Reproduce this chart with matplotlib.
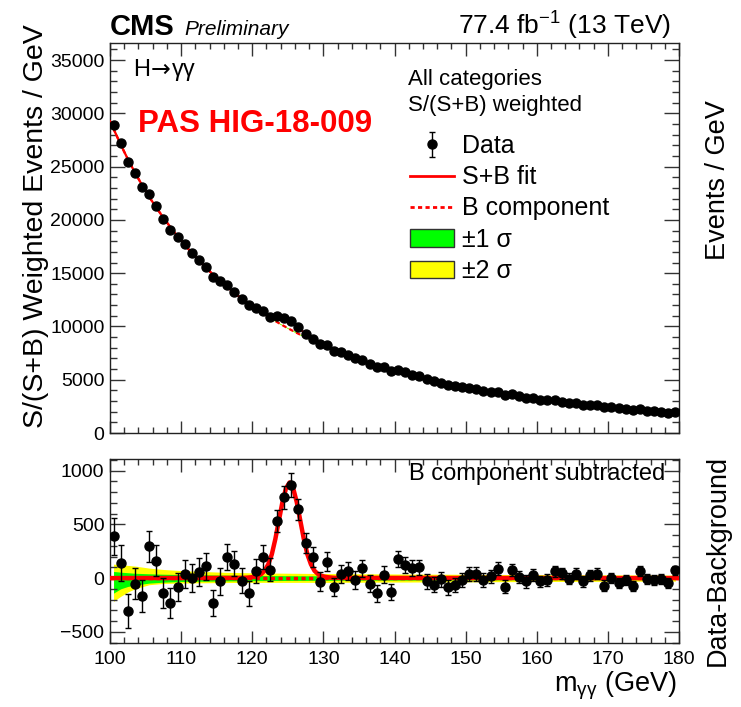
import numpy as np
import matplotlib
matplotlib.use("Agg")
import matplotlib.pyplot as plt
from matplotlib.lines import Line2D
from matplotlib.patches import Patch
from matplotlib.ticker import MultipleLocator

plt.rcParams["font.family"] = ["Liberation Sans", "DejaVu Sans"]
plt.rcParams["mathtext.fontset"] = "custom"
plt.rcParams["mathtext.rm"] = "Liberation Sans"
plt.rcParams["mathtext.it"] = "Liberation Sans:italic"

# ---------------- data ----------------
mass = np.arange(100.5, 180.0, 1.0)          # bin centres (GeV)

# background (B component) fit evaluated at bin centres
bkg_fit = [28540, 27070, 25710, 24450, 23270, 22170, 21160, 20210, 19310, 18460,
           17660, 16900, 16180, 15500, 14860, 14255, 13680, 13135, 12620, 12130,
           11665, 11225, 10805, 10405, 10023, 9658, 9310, 8978, 8661, 8358,
           8068, 7791, 7526, 7272, 7029, 6796, 6573, 6359, 6154, 5957,
           5762, 5575, 5396, 5224, 5059, 4901, 4750, 4605, 4466, 4333,
           4206, 4084, 3967, 3854, 3745, 3640, 3538, 3439, 3343, 3250,
           3160, 3073, 2989, 2908, 2830, 2755, 2682, 2611, 2542, 2475,
           2410, 2347, 2286, 2227, 2170, 2114, 2060, 2007, 1956, 1906]
bkg_edge_mass = [100.0, 180.0]
bkg_edge_vals = [29260, 1882]

# data - background
residual = [387, 139, -303, -53, -167, 294, 161, -136, -232, -84,
            37, 0, 56, 108, -232, -31, 195, 133, -25, -142,
            62, 195, 77, 533, 752, 867, 641, 328, 195, -34,
            152, -84, 37, 68, -15, 90, -53, -142, 31, -130,
            180, 118, 93, 99, -31, -62, -12, -87, -62, -22,
            40, 40, -19, 15, 87, -80, 77, 9, -31, 31,
            -31, -19, 62, 43, -6, 40, -31, 25, 40, -71,
            0, -43, -19, -71, 62, -9, -15, -6, -46, 71]
residual_err = [170, 168, 158, 145, 150, 148, 143, 140, 136, 128,
                132, 130, 127, 125, 121, 122, 120, 116, 118, 114,
                112, 111, 108, 104, 106, 108, 98, 94, 92, 90,
                88, 87, 86, 84, 83, 82, 80, 79, 77, 76,
                75, 74, 72, 71, 70, 69, 68, 67, 66, 65,
                64, 63, 62, 61, 60, 59, 58, 58, 57, 56,
                55, 55, 54, 53, 53, 52, 51, 51, 50, 50,
                49, 48, 48, 47, 47, 46, 46, 45, 45, 44]

# signal component of the S+B fit
sig_mass = np.arange(118.75, 131.76, 0.5)
sig_vals = [2, 4, 7, 12, 20, 37, 68, 128, 221, 364, 537, 709, 837, 890,
            837, 709, 537, 364, 221, 128, 68, 37, 20, 12, 7, 4, 2]

# uncertainty bands on the background (relative to B)
band_mass = [100.5, 101.5, 102.5, 103.5, 105.5, 107.5, 110.5, 115.5,
             120.5, 125.5, 130.5, 140.5, 150.5, 160.5, 170.5, 179.5]
band2_hi = [130, 125, 118, 112, 93, 80, 68, 55, 48, 45, 42, 38, 35, 32, 30, 28]
band2_lo = [-217, -170, -130, -100, -62, -50, -46, -42, -40, -40, -40, -37, -35, -32, -30, -28]
band1_hi = [62, 55, 50, 45, 40, 36, 32, 28, 24, 22, 21, 19, 17, 16, 15, 14]
band1_lo = [-140, -100, -78, -65, -47, -38, -31, -27, -24, -22, -21, -19, -17, -16, -15, -14]

# ---------------- derived curves ----------------
bkg = np.array(bkg_fit, dtype=float)
res = np.array(residual, dtype=float)
data_w = bkg + res
bkg_x = np.concatenate([[bkg_edge_mass[0]], mass, [bkg_edge_mass[1]]])
bkg_y = np.concatenate([[bkg_edge_vals[0]], bkg, [bkg_edge_vals[1]]])
sig_x = np.concatenate([[100.0], sig_mass, [180.0]])
sig_y = np.concatenate([[0.0], sig_vals, [0.0]])
grid = np.unique(np.concatenate([bkg_x, sig_mass]))
sb_upper = np.interp(grid, bkg_x, bkg_y) + np.interp(grid, sig_x, sig_y)
sb_lower = np.interp(grid, sig_x, sig_y)

RED = "#ff0000"
GREEN = "#00ff00"
YELLOW = "#ffff00"

W, H = 741, 707
fig = plt.figure(figsize=(W / 100, H / 100), dpi=100)

def fx(px):
    return px / W

def fy(py):
    return 1 - py / H

L, R = 110, 679
ax1 = fig.add_axes([fx(L), fy(433), fx(R - L), (433 - 43) / H])
ax2 = fig.add_axes([fx(L), fy(643), fx(R - L), (643 - 459) / H])

# ---- upper panel ----
b2lo = np.interp(mass, band_mass, band2_lo)
b2hi = np.interp(mass, band_mass, band2_hi)
b1lo = np.interp(mass, band_mass, band1_lo)
b1hi = np.interp(mass, band_mass, band1_hi)
ax1.fill_between(mass, bkg + b2lo, bkg + b2hi, color=YELLOW, lw=0, zorder=1)
ax1.fill_between(mass, bkg + b1lo, bkg + b1hi, color=GREEN, lw=0, zorder=1.1)
ax1.plot(bkg_x, bkg_y, color=RED, lw=1.6, ls=(0, (2, 1.5)), zorder=2)
ax1.plot(grid, sb_upper, color=RED, lw=1.6, zorder=3)
eb = ax1.errorbar(mass, data_w, yerr=residual_err, fmt="o", color="black",
                  ms=6.5, elinewidth=1, capsize=2.2, capthick=1, zorder=4)

ax1.set_xlim(100, 180)
ax1.set_ylim(0, 36600)
ax1.yaxis.set_major_locator(MultipleLocator(5000))
ax1.yaxis.set_minor_locator(MultipleLocator(1000))
ax1.xaxis.set_major_locator(MultipleLocator(10))
ax1.xaxis.set_minor_locator(MultipleLocator(2))
ax1.tick_params(axis="x", labelbottom=False)

# ---- lower panel ----
ax2.fill_between(band_mass, band2_lo, band2_hi, color=YELLOW, lw=0, zorder=1)
ax2.fill_between(band_mass, band1_lo, band1_hi, color=GREEN, lw=0, zorder=1.1)
ax2.plot([100, 180], [0, 0], color=RED, lw=2.5, ls=(0, (1.2, 1.0)), zorder=2)
ax2.plot(grid, sb_lower, color=RED, lw=3.2, zorder=3)
ax2.errorbar(mass, res, yerr=residual_err, fmt="o", color="black",
             ms=6.5, elinewidth=1, capsize=2.2, capthick=1, zorder=4)
ax2.set_xlim(100, 180)
ax2.set_ylim(-604, 1108)
ax2.yaxis.set_major_locator(MultipleLocator(500))
ax2.yaxis.set_minor_locator(MultipleLocator(100))
ax2.xaxis.set_major_locator(MultipleLocator(10))
ax2.xaxis.set_minor_locator(MultipleLocator(2))

for ax in (ax1, ax2):
    for s in ax.spines.values():
        s.set_linewidth(1.0)
        s.set_color("#222222")
    ax.tick_params(which="both", direction="in", top=True, right=True,
                   color="#333333", labelsize=14, pad=4)
    ax.tick_params(axis="y", which="major", length=11, width=1)
    ax.tick_params(axis="y", which="minor", length=5, width=1)
    ax.tick_params(axis="x", which="major", length=9, width=1)
    ax.tick_params(axis="x", which="minor", length=4.5, width=1)
ax2.tick_params(axis="x", which="major", pad=6)

# ---- texts ----
fig.text(fx(110), fy(35), "CMS", fontsize=21, fontweight="bold", ha="left", va="baseline")
fig.text(fx(184), fy(35), "Preliminary", fontsize=15, style="italic", ha="left", va="baseline")
fig.text(fx(671), fy(35), r"77.4 fb$^{-1}$ (13 TeV)", fontsize=19, ha="right", va="baseline")

fig.text(fx(133), fy(70), "H", fontsize=17, ha="left", va="center")
fig.text(fx(151), fy(70), "→", fontsize=17, ha="left", va="center",
         family=["DejaVu Sans"])
fig.text(fx(172), fy(70), "γγ", fontsize=17, ha="left", va="center")
fig.text(fx(138), fy(124), "PAS HIG-18-009", fontsize=22.5, fontweight="bold",
         color=RED, ha="left", va="center")
fig.text(fx(408), fy(80), "All categories", fontsize=16, ha="left", va="center")
fig.text(fx(408), fy(106), "S/(S+B) weighted", fontsize=16, ha="left", va="center")

handles = [eb,
           Line2D([], [], color=RED, lw=2),
           Line2D([], [], color=RED, lw=2, ls=(0, (1.5, 1.2))),
           Patch(facecolor=GREEN, edgecolor="#333333", lw=1),
           Patch(facecolor=YELLOW, edgecolor="#333333", lw=1)]
labels = ["Data", "S+B fit", "B component", "±1 σ", "±2 σ"]
fig.legend(handles, labels, loc="upper left", bbox_to_anchor=(fx(410), fy(134)),
           frameon=False, fontsize=18, handlelength=1.75, handletextpad=0.35,
           labelspacing=0.29, borderpad=0, borderaxespad=0, handleheight=0.7)

fig.text(fx(36), fy(226), "S/(S+B) Weighted Events / GeV", fontsize=20.5,
         rotation=90, ha="center", va="center")
fig.text(fx(718), fy(180), "Events / GeV", fontsize=19.5, rotation=90, ha="center", va="center")
fig.text(fx(718), fy(560), "Data-Background", fontsize=19.5, rotation=90, ha="center", va="center")
fig.text(fx(677), fy(686), r"m$_{\mathregular{γγ}}$ (GeV)", fontsize=19.5, ha="right", va="center")
ax2.text(0.975, 0.92, "B component subtracted", transform=ax2.transAxes,
         fontsize=17, ha="right", va="center")

fig.savefig("out.png", dpi=100)
